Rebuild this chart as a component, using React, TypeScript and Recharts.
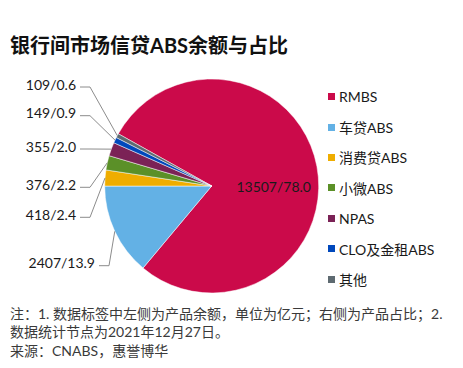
import { Cell, Pie, PieChart } from "recharts";

const categories = ["RMBS", "车贷ABS", "消费贷ABS", "小微ABS", "NPAS", "CLO及金租ABS", "其他"];
const balances = [13507, 2407, 418, 376, 355, 149, 109];
const shares = [78.0, 13.9, 2.4, 2.2, 2.0, 0.9, 0.6];
const colors = ["#CB0A4A", "#63B1E5", "#EFAD00", "#5B9028", "#7B2256", "#0048BC", "#5E6A71"];

// y of the left-hand labels, by slice index (layout only)
const labelY = [0, 262.7, 214.3, 184.3, 146, 112.7, 84];

const FONT = "Lato, 'Noto Sans CJK SC', sans-serif";
const RAD = Math.PI / 180;

const chartData = categories.map((name, i) => ({
  name,
  value: balances[i],
  text: `${balances[i]}/${shares[i].toFixed(1)}`,
}));

function SliceLabel(props: any) {
  const { cx, cy, midAngle, outerRadius, index, payload } = props;
  if (index === 0) {
    return (
      <text x={cx + 62} y={cy} textAnchor="middle" dominantBaseline="central" fill="#1a1a1a" fontSize={14} fontFamily={FONT}>
        {payload.text}
      </text>
    );
  }
  const ex = cx + outerRadius * Math.cos(-midAngle * RAD);
  const ey = cy + outerRadius * Math.sin(-midAngle * RAD);
  const ty = labelY[index];
  const textRight = index === 1 ? 95 : 76;
  const lx = textRight + 4;
  return (
    <g>
      <polyline
        points={`${lx},${ty + 3} ${lx + 10},${ty + 3} ${ex},${ey}`}
        fill="none"
        stroke="#8c8c8c"
        strokeWidth={1}
      />
      <text x={textRight} y={ty} textAnchor="end" dominantBaseline="central" fill="#1a1a1a" fontSize={14} fontFamily={FONT}>
        {payload.text}
      </text>
    </g>
  );
}

function LegendList() {
  return (
    <div style={{ fontFamily: FONT, fontSize: 14, color: "#1a1a1a" }}>
      {categories.map((name, i) => (
        <div key={name} style={{ display: "flex", alignItems: "center", height: 30.4 }}>
          <span style={{ width: 7, height: 7, background: colors[i], marginRight: 4, display: "inline-block" }} />
          <span>{name}</span>
        </div>
      ))}
    </div>
  );
}

export default function App() {
  return (
    <div style={{ position: "absolute", left: 0, top: 0, width: 463, height: 368, background: "#fff", fontFamily: FONT }}>
      <div style={{ position: "absolute", left: 10, top: 32, fontSize: 20, fontWeight: 700, lineHeight: "26px", color: "#111" }}>
        银行间市场信贷ABS余额与占比
      </div>
      <div style={{ position: "absolute", left: 0, top: 0 }}>
        <PieChart width={463} height={300} margin={{ top: 0, right: 0, bottom: 0, left: 0 }}>
          <Pie
            data={chartData}
            dataKey="value"
            nameKey="name"
            cx={211.7}
            cy={186}
            outerRadius={107}
            startAngle={150.8}
            endAngle={-209.2}
            stroke="#ffffff"
            strokeWidth={0.5}
            label={SliceLabel}
            labelLine={false}
            isAnimationActive={false}
          >
            {chartData.map((row, i) => (
              <Cell key={row.name} fill={colors[i]} />
            ))}
          </Pie>
        </PieChart>
      </div>
      <div style={{ position: "absolute", left: 328, top: 81.5 }}>
        <LegendList />
      </div>
      <div style={{ position: "absolute", left: 10, top: 304.8, fontSize: 14, lineHeight: "18.5px", color: "#3a3a3a", whiteSpace: "nowrap" }}>
        <div>注：1. 数据标签中左侧为产品余额，单位为亿元；右侧为产品占比；2.</div>
        <div>数据统计节点为2021年12月27日。</div>
        <div>来源：CNABS，惠誉博华</div>
      </div>
    </div>
  );
}
